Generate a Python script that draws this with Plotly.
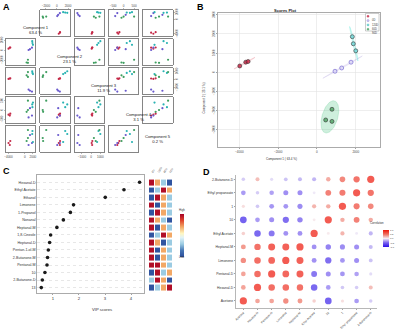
import numpy as np
import plotly.graph_objects as go

W, H = 400, 331
def fx(p): return p / W
def fy(p): return 1 - p / H

FONT = "Liberation Sans, Arial, sans-serif"

# ---------------- data ----------------
group_names = ["0D", "120D", "60D", "90D"]
group_colors = ["#C42A48", "#6A5ACD", "#2AB3B3", "#3E9E5F"]
group_fills = ["rgba(200,40,70,0.85)", "rgba(220,215,245,0.9)", "rgba(120,215,215,0.9)", "rgba(90,170,110,0.9)"]
group_ell = ["rgba(220,80,100,0.12)", "rgba(140,120,210,0.10)", "rgba(64,224,208,0.22)", "rgba(60,190,120,0.25)"]
group_ell_line = ["rgba(220,80,100,0.35)", "rgba(140,120,210,0.3)", "rgba(64,224,208,0.45)", "rgba(60,190,120,0.4)"]
point_group = [0, 0, 0, 1, 1, 1, 2, 2, 2, 3, 3, 3]

comp1 = [-3979, -3669, -3550, 930, 1276, 1757, 1824, 1876, 2000, 775, 450, 775]
comp2 = [330, 526, 563, 53, 226, 526, 1858, 1489, 1121, -1932, -2489, -2563]
comp3 = [60, 110, 130, -1250, -1400, -1500, 1000, 800, 650, 900, 500, 300]
comp4 = [-250, -300, -200, -400, 100, -300, 300, 150, 400, 500, -100, 0]
comp5 = [-40, -60, -20, -60, 40, -40, 50, 80, -30, 90, -20, 10]
comp_var = ["63.4 %", "23.1 %", "11.9 %", "3.1 %", "0.2 %"]
comp_ranges = [[-4600, 2600], [-3000, 2300], [-1800, 1400], [-700, 700], [-130, 130]]
comp_ticks = [[-4000, 0, 2000], [-2000, 0, 2000], [-1000, 0, 1000], [-500, 0, 500], [-100, 0, 100]]

b_xticks = [-4000, -2000, 0, 2000]
b_yticks = [-3000, -2000, -1000, 0, 1000, 2000, 3000]

vip_features = ["Hexanal-D", "Ethyl Acetate", "Ethanol", "Limonene", "1-Propanol", "Nonanal",
                "Heptanal-M", "1,8-Cineole", "Heptanal-D", "Pentan-1-ol-M", "2-Butanone-M",
                "Pentanal-M", "10", "2-Butanone-D", "13"]
vip_scores = [4.33, 3.73, 3.01, 1.79, 1.67, 1.40, 1.15, 0.91, 0.87, 0.82, 0.79, 0.77, 0.69, 0.59, 0.55]
# R=high, O=mid-high, L=mid-low, B=low
R, O, L, B = 0.97, 0.70, 0.30, 0.03
vip_heat = [[R, O, L, B], [B, L, R, O], [B, R, O, L], [R, B, O, L], [B, R, O, L],
            [R, O, L, B], [R, B, O, L], [B, L, R, O], [R, O, B, L], [R, B, O, L],
            [R, B, O, L], [R, R, O, L], [B, R, L, O], [L, R, O, B], [B, L, O, R]]
vip_groups = ["0D", "120D", "60D", "90D"]

corr_vars = ["Acetone", "Hexanal-D", "Pentanal-D", "Limonene", "Heptanal-M",
             "Ethyl Acetate", "10", "1", "Ethyl propanoate", "2-Butanone-D"]
corr_matrix = [
    [1.00, 0.45, 0.45, 0.60, 0.50, 0.20, -0.90, 0.12, -0.45, -0.20],
    [0.45, 1.00, 0.85, 0.85, 0.82, -0.85, -0.45, -0.22, -0.20, 0.30],
    [0.45, 0.85, 1.00, 0.90, 0.95, -0.72, -0.52, -0.48, -0.42, -0.12],
    [0.60, 0.85, 0.90, 1.00, 0.95, -0.50, -0.80, -0.48, -0.52, -0.25],
    [0.50, 0.82, 0.95, 0.95, 1.00, -0.50, -0.62, -0.55, -0.52, -0.30],
    [0.20, -0.85, -0.72, -0.50, -0.50, 1.00, 0.05, 0.35, -0.05, -0.32],
    [-0.90, -0.45, -0.52, -0.80, -0.62, 0.05, 1.00, 0.40, 0.70, 0.40],
    [0.12, -0.22, -0.48, -0.48, -0.55, 0.35, 0.40, 1.00, 0.75, 0.65],
    [-0.45, -0.20, -0.42, -0.52, -0.52, -0.05, 0.70, 0.75, 1.00, 0.80],
    [-0.20, 0.30, -0.12, -0.25, -0.30, -0.32, 0.40, 0.65, 0.80, 1.00],
]

# ---------------- figure ----------------
fig = go.Figure()
layout = dict(width=W, height=H, margin=dict(l=0, r=0, t=0, b=0, pad=0, autoexpand=False),
              paper_bgcolor="white", plot_bgcolor="white", showlegend=False, hovermode=False,
              font=dict(family=FONT, size=4, color="#333"))
annotations = []
shapes = []
_ax = [0]

def new_axes(px0, px1, py0, py1, xopts, yopts):
    _ax[0] += 1
    s = "" if _ax[0] == 1 else str(_ax[0])
    layout["xaxis" + s] = dict(domain=[fx(px0), fx(px1)], anchor="y" + s, automargin=False,
                               fixedrange=True, **xopts)
    layout["yaxis" + s] = dict(domain=[fy(py1), fy(py0)], anchor="x" + s, automargin=False,
                               fixedrange=True, **yopts)
    return "x" + s, "y" + s

def letter(t, px, py):
    annotations.append(dict(text="<b>%s</b>" % t, x=fx(px), y=fy(py), xref="paper", yref="paper",
                            xanchor="left", yanchor="top", showarrow=False,
                            font=dict(size=9, color="#000", family=FONT)))

# ---------- Panel A: pairs plot ----------
comps = [comp1, comp2, comp3, comp4, comp5]
A_x0, A_w, A_gx = 6, 29.4, 4.9
A_y0, A_h, A_gy = 10, 26, 3
pt_colors = [group_colors[g] for g in point_group]
for i in range(5):
    for j in range(5):
        x0 = A_x0 + j * (A_w + A_gx)
        y0 = A_y0 + i * (A_h + A_gy)
        base = dict(showgrid=False, zeroline=False, showline=True, mirror=True,
                    linecolor="#666", linewidth=0.8, tickfont=dict(size=3, color="#444"),
                    ticklen=1.2, tickwidth=0.5, tickcolor="#777")
        xo = dict(base, range=comp_ranges[j], tickvals=comp_ticks[j])
        yo = dict(base, range=comp_ranges[i], tickvals=comp_ticks[i], tickangle=-90)
        xo["showticklabels"] = False; xo["ticks"] = ""
        yo["showticklabels"] = False; yo["ticks"] = ""
        if i == 0 and j in (1, 3):
            xo.update(side="top", showticklabels=True, ticks="outside")
        if i == 4 and j in (0, 2, 4):
            xo.update(side="bottom", showticklabels=True, ticks="outside")
        if j == 0 and i in (1, 3):
            yo.update(side="left", showticklabels=True, ticks="outside")
        if j == 4 and i in (0, 2, 4):
            yo.update(side="right", showticklabels=True, ticks="outside")
        xa, ya = new_axes(x0, x0 + A_w, y0, y0 + A_h, xo, yo)
        if i == j:
            annotations.append(dict(text="Component %d<br>%s" % (i + 1, comp_var[i]),
                                    x=fx(x0 + A_w / 2), y=fy(y0 + A_h / 2), xref="paper", yref="paper",
                                    showarrow=False, font=dict(size=4.2, color="#222")))
        else:
            fig.add_trace(go.Scatter(x=comps[j], y=comps[i], mode="markers", xaxis=xa, yaxis=ya,
                                     marker=dict(size=2.2, color=pt_colors, line=dict(width=0))))
letter("A", 1, 0)

# ---------- Panel B: scores plot ----------
xa, ya = new_axes(218, 380, 13, 147,
                  dict(range=[-5100, 3250], tickvals=b_xticks, showgrid=True, gridcolor="#e3e3e3",
                       gridwidth=0.6, zeroline=False, showline=True, mirror=True, linecolor="#888",
                       linewidth=0.7, ticks="outside", ticklen=1.5, tickwidth=0.5,
                       tickfont=dict(size=3, color="#444")),
                  dict(range=[-3900, 3095], tickvals=b_yticks, showgrid=True, gridcolor="#e3e3e3",
                       gridwidth=0.6, zeroline=False, showline=True, mirror=True, linecolor="#888",
                       linewidth=0.7, ticks="outside", ticklen=1.5, tickwidth=0.5, tickangle=-90,
                       tickfont=dict(size=3, color="#444")))
c1 = np.array(comp1, float); c2 = np.array(comp2, float); pg = np.array(point_group)
t = np.linspace(0, 2 * np.pi, 80)
for g in range(4):
    px_, py_ = c1[pg == g], c2[pg == g]
    cov = np.cov(np.vstack([px_, py_]))
    vals, vecs = np.linalg.eigh(cov)
    k = np.sqrt(5.991)
    circ = np.vstack([np.cos(t), np.sin(t)]) * (k * np.sqrt(np.maximum(vals, 1)))[:, None]
    ell = vecs @ circ
    fig.add_trace(go.Scatter(x=ell[0] + px_.mean(), y=ell[1] + py_.mean(), mode="lines",
                             fill="toself", fillcolor=group_ell[g], xaxis=xa, yaxis=ya,
                             line=dict(color=group_ell_line[g], width=0.5), hoverinfo="skip"))
for g in range(4):
    fig.add_trace(go.Scatter(x=c1[pg == g], y=c2[pg == g], mode="markers", xaxis=xa, yaxis=ya,
                             marker=dict(size=4, color=group_fills[g],
                                         line=dict(color="#333" if g != 1 else group_colors[1], width=0.6))))
annotations.append(dict(text="<b>Scores Plot</b>", x=fx(299), y=fy(6), xref="paper", yref="paper",
                        showarrow=False, font=dict(size=4, color="#222")))
annotations.append(dict(text="Component 1 ( 63.4 %)", x=fx(299), y=fy(159), xref="paper", yref="paper",
                        showarrow=False, font=dict(size=3, color="#333")))
annotations.append(dict(text="Component 2 ( 23.1 %)", x=fx(203), y=fy(80), xref="paper", yref="paper",
                        showarrow=False, textangle=-90, font=dict(size=3, color="#333")))
# manual legend
shapes.append(dict(type="rect", xref="paper", yref="paper", x0=fx(365.5), x1=fx(379), y0=fy(31), y1=fy(13.5),
                   line=dict(color="#999", width=0.5), fillcolor="white"))
for g in range(4):
    yy = 16.3 + g * 4.3
    shapes.append(dict(type="circle", xref="paper", yref="paper", x0=fx(367), x1=fx(369),
                       y0=fy(yy + 1), y1=fy(yy - 1), fillcolor=group_fills[g],
                       line=dict(color=group_colors[g], width=0.4)))
    annotations.append(dict(text=group_names[g], x=fx(370.2), y=fy(yy), xref="paper", yref="paper",
                            xanchor="left", showarrow=False, font=dict(size=2.6, color="#333")))
letter("B", 195, 0)

# ---------- Panel C: VIP scores ----------
ny = len(vip_features)
yrng = [ny - 1 + 0.72, -0.97]
xa, ya = new_axes(37, 144, 175, 293,
                  dict(range=[0.385, 4.5], tickvals=[1, 2, 3, 4], showgrid=False, zeroline=False,
                       showline=True, mirror=True, linecolor="#888", linewidth=0.7, ticks="outside",
                       ticklen=1.5, tickwidth=0.5, tickfont=dict(size=4.2, color="#333")),
                  dict(range=yrng, type="category", categoryorder="array", categoryarray=vip_features,
                       showgrid=True, gridcolor="#d0d0d0", gridwidth=0.5, griddash="dot",
                       zeroline=False, showline=True, mirror=True, linecolor="#888", linewidth=0.7,
                       ticks="", tickfont=dict(size=3.6, color="#333")))
fig.add_trace(go.Scatter(x=vip_scores, y=vip_features, mode="markers", xaxis=xa, yaxis=ya,
                         marker=dict(size=3.6, color="#1a1a1a")))
annotations.append(dict(text="VIP scores", x=fx(90), y=fy(314), xref="paper", yref="paper",
                        showarrow=False, font=dict(size=4.2, color="#333")))
heat_scale = [[0, "#2B4C9B"], [0.15, "#4575B4"], [0.3, "#9BCBE2"], [0.45, "#E0F3F8"],
              [0.55, "#FFF6C0"], [0.7, "#F2A866"], [0.85, "#E0452C"], [1, "#A50026"]]
xa, ya = new_axes(149, 172.5, 175, 293,
                  dict(side="top", showgrid=False, zeroline=False, showline=False, ticks="",
                       tickangle=-55, tickfont=dict(size=2.6, color="#444")),
                  dict(range=yrng, type="category", categoryorder="array", categoryarray=vip_features,
                       showgrid=False, zeroline=False, showline=False, showticklabels=False, ticks=""))
fig.add_trace(go.Heatmap(z=vip_heat, x=vip_groups, y=vip_features, xaxis=xa, yaxis=ya,
                         colorscale=heat_scale, zmin=0, zmax=1, xgap=1, ygap=2,
                         colorbar=dict(x=fx(180), xanchor="left", y=fy(235.5), yanchor="middle",
                                       len=43 / H, lenmode="fraction", thickness=4, thicknessmode="pixels",
                                       showticklabels=False, ticks="", outlinewidth=0, xpad=0, ypad=0)))
annotations.append(dict(text="High", x=fx(182), y=fy(210), xref="paper", yref="paper",
                        showarrow=False, font=dict(size=2.8, color="#333")))
annotations.append(dict(text="Low", x=fx(182), y=fy(261), xref="paper", yref="paper",
                        showarrow=False, font=dict(size=2.8, color="#333")))
letter("C", 1, 164)

# ---------- Panel D: correlation dot plot ----------
n = len(corr_vars)
xs, ys, cs, ss = [], [], [], []
for i in range(n):
    for j in range(n):
        r = corr_matrix[i][j]
        xs.append(j); ys.append(i); cs.append(r); ss.append(2.6 + 4.6 * abs(r))
xa, ya = new_axes(235.7, 376.7, 175, 308,
                  dict(range=[-0.54, 9.42], tickvals=list(range(n)), ticktext=corr_vars, tickangle=-45,
                       showgrid=False, zeroline=False, showline=True, linecolor="#999", linewidth=0.7,
                       ticks="outside", ticklen=1.2, tickwidth=0.5, tickfont=dict(size=3.0, color="#333")),
                  dict(range=[-0.52, 9.32], tickvals=list(range(n)), ticktext=corr_vars,
                       showgrid=False, zeroline=False, showline=True, linecolor="#999", linewidth=0.7,
                       ticks="outside", ticklen=1.2, tickwidth=0.5, tickfont=dict(size=3.4, color="#333")))
corr_scale = [[0, "#2A10E8"], [0.25, "#7A63EE"], [0.5, "#F4EEF4"], [0.75, "#EE7060"], [1, "#EE1508"]]
fig.add_trace(go.Scatter(x=xs, y=ys, mode="markers", xaxis=xa, yaxis=ya,
                         marker=dict(size=ss, color=cs, colorscale=corr_scale, cmin=-1, cmax=1,
                                     line=dict(width=0),
                                     colorbar=dict(x=fx(383), xanchor="left", y=fy(238.5), yanchor="middle",
                                                   len=17 / H, lenmode="fraction", thickness=6,
                                                   thicknessmode="pixels", tickvals=[-1, -0.5, 0, 0.5, 1],
                                                   ticktext=["-1.0", "-0.5", "0.0", "0.5", "1.0"],
                                                   tickfont=dict(size=2.4, color="#333"), ticks="",
                                                   outlinewidth=0, xpad=0, ypad=0))))
annotations.append(dict(text="Correlation", x=fx(386), y=fy(227), xref="paper", yref="paper",
                        showarrow=False, font=dict(size=2.8, color="#333")))
letter("D", 201, 165)

layout["annotations"] = annotations
layout["shapes"] = shapes
fig.update_layout(**layout)
fig.write_html("out.html", config={"displayModeBar": False, "staticPlot": True},
               post_script="document.body.style.margin='0px';document.body.style.padding='0px';"
                           "document.body.style.overflow='hidden';")
